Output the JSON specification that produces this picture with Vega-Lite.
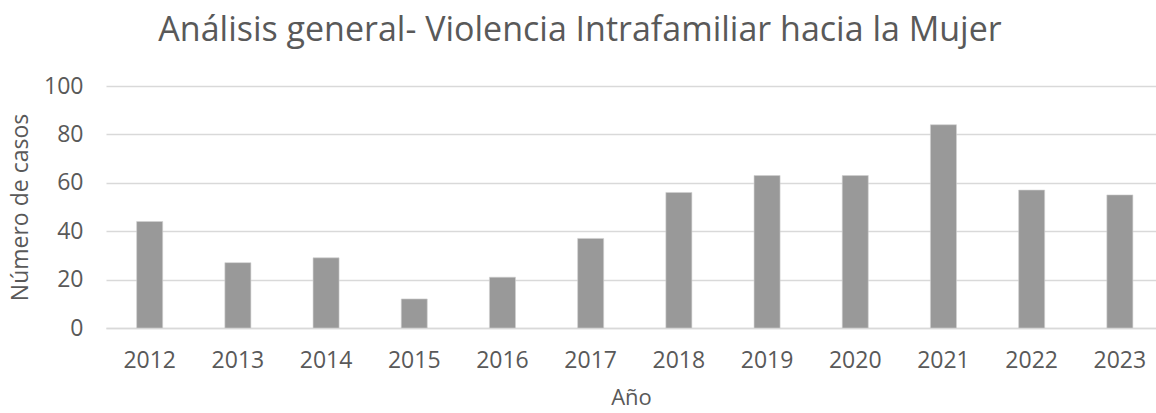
{
  "$schema": "https://vega.github.io/schema/vega-lite/v6.json",
  "autosize": {"type": "none"},
  "width": 1050,
  "height": 242,
  "padding": {"left": 106, "top": 86, "right": 0, "bottom": 85},
  "background": "white",
  "title": {
    "text": "Análisis general- Violencia Intrafamiliar hacia la Mujer",
    "font": "Open Sans",
    "fontSize": 34,
    "fontWeight": "normal",
    "color": "#595959",
    "anchor": "middle",
    "dx": -51,
    "offset": 27
  },
  "data": {
    "values": [
      {"Año": "2012", "casos": 44},
      {"Año": "2013", "casos": 27},
      {"Año": "2014", "casos": 29},
      {"Año": "2015", "casos": 12},
      {"Año": "2016", "casos": 21},
      {"Año": "2017", "casos": 37},
      {"Año": "2018", "casos": 56},
      {"Año": "2019", "casos": 63},
      {"Año": "2020", "casos": 63},
      {"Año": "2021", "casos": 84},
      {"Año": "2022", "casos": 57},
      {"Año": "2023", "casos": 55}
    ]
  },
  "mark": {"type": "bar", "color": "#999999", "stroke": "#d0d0d0", "strokeWidth": 0.6},
  "encoding": {
    "x": {
      "field": "Año",
      "type": "ordinal",
      "scale": {"paddingInner": 0.705, "paddingOuter": 0.305, "align": 0.57},
      "axis": {
        "title": "Año",
        "titleFont": "Open Sans",
        "titleFontSize": 22,
        "titleFontWeight": "normal",
        "titleColor": "#595959",
        "titlePadding": 15,
        "labelFont": "Open Sans",
        "labelFontSize": 23,
        "labelColor": "#595959",
        "labelAngle": 0,
        "labelPadding": 21,
        "ticks": false,
        "domainColor": "#d9d9d9",
        "domainWidth": 1.5
      }
    },
    "y": {
      "field": "casos",
      "type": "quantitative",
      "scale": {"domain": [0, 100]},
      "axis": {
        "title": "Número de casos",
        "titleFont": "Open Sans",
        "titleFontSize": 23,
        "titleFontWeight": "normal",
        "titleColor": "#595959",
        "titlePadding": 11,
        "values": [0, 20, 40, 60, 80, 100],
        "labelFont": "Open Sans",
        "labelFontSize": 23,
        "labelColor": "#595959",
        "labelPadding": 23,
        "ticks": false,
        "domain": false,
        "gridColor": "#d9d9d9",
        "gridWidth": 1.5
      }
    }
  },
  "config": {"view": {"stroke": null}}
}
